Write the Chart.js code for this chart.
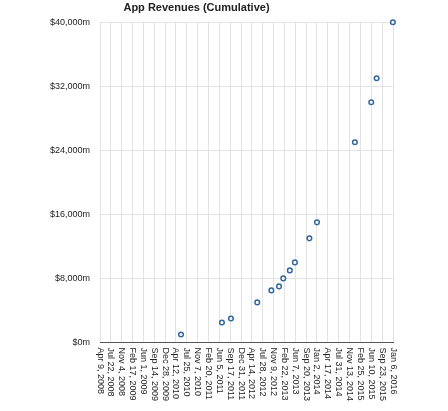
<!DOCTYPE html>
<html>
<head>
<script src="https://cdn.jsdelivr.net/npm/chart.js@4"></script>
<style>
  body { margin: 0; background: #fff; }
  #wrap { width: 448px; height: 411px; }
</style>
</head>
<body>
<div id="wrap"><canvas id="chart"></canvas></div>
<script>
const tickLabels = ["Apr 9, 2008", "Jul 22, 2008", "Nov 4, 2008", "Feb 17, 2009", "Jun 1, 2009",
    "Sep 14, 2009", "Dec 28, 2009", "Apr 12, 2010", "Jul 25, 2010", "Nov 7, 2010", "Feb 20, 2011",
    "Jun 5, 2011", "Sep 17, 2011", "Dec 31, 2011", "Apr 14, 2012", "Jul 28, 2012", "Nov 9, 2012",
    "Feb 22, 2013", "Jun 7, 2013", "Sep 20, 2013", "Jan 2, 2014", "Apr 17, 2014", "Jul 31, 2014",
    "Nov 13, 2014", "Feb 25, 2015", "Jun 10, 2015", "Sep 23, 2015", "Jan 6, 2016"];
// days since Apr 9, 2008
const pointDays = [782, 1177, 1264, 1518, 1654, 1728, 1769, 1832, 1881, 2021, 2094, 2460, 2618, 2670, 2827];
const revenues = [1000, 2500, 3000, 5000, 6500, 7000, 8000, 9000, 10000, 13000, 15000, 25000, 30000, 33000, 40000];

const start = Date.parse(tickLabels[0] + " UTC");
const tickDays = tickLabels.map(l => Math.round((Date.parse(l + " UTC") - start) / 86400000));
const FONT = "Liberation Sans, Arial, sans-serif";

const downLabels = {
    id: "downLabels",
    afterDraw(chart) {
        const ctx = chart.ctx;
        const x = chart.scales.x;
        const top = chart.chartArea.bottom + 5;
        ctx.save();
        ctx.font = "9px " + FONT;
        ctx.fillStyle = "#222";
        ctx.textAlign = "left";
        ctx.textBaseline = "middle";
        tickDays.forEach((d, i) => {
            ctx.save();
            ctx.translate(x.getPixelForValue(d), top);
            ctx.rotate(Math.PI / 2);
            ctx.fillText(tickLabels[i], 0, 0);
            ctx.restore();
        });
        ctx.restore();
    }
};

new Chart(document.getElementById("chart"), {
    type: "scatter",
    data: {
        datasets: [{
            data: pointDays.map((d, i) => ({ x: d, y: revenues[i] })),
            pointRadius: 2.3,
            pointBorderWidth: 1.5,
            borderColor: "#33689e",
            backgroundColor: "#fff",
            clip: false
        }]
    },
    options: {
        responsive: true,
        maintainAspectRatio: false,
        animation: false,
        layout: { padding: { top: 0, right: 55, bottom: 5, left: 0 } },
        plugins: {
            legend: { display: false },
            tooltip: { enabled: false },
            title: {
                display: true,
                text: "App Revenues (Cumulative)",
                color: "#222",
                font: { family: FONT, size: 11, weight: "bold" },
                padding: { top: 1, bottom: 8 }
            }
        },
        scales: {
            x: {
                type: "linear",
                min: 0,
                max: tickDays[tickDays.length - 1],
                afterBuildTicks: axis => { axis.ticks = tickDays.map(v => ({ value: v })); },
                grid: { color: "#e3e3e3", drawTicks: false },
                border: { color: "#555" },
                ticks: {
                    color: "rgba(0,0,0,0)",
                    font: { family: FONT, size: 9 },
                    minRotation: 90, maxRotation: 90,
                    autoSkip: false,
                    padding: 5,
                    callback: (v, i) => tickLabels[i]
                }
            },
            y: {
                min: 0, max: 40000,
                afterFit: axis => { axis.width = 100; },
                grid: { color: "#e3e3e3", drawTicks: false },
                border: { display: false },
                ticks: {
                    stepSize: 8000,
                    color: "#222",
                    padding: 10,
                    font: { family: FONT, size: 9 },
                    callback: v => "$" + v.toLocaleString("en-US") + "m"
                }
            }
        }
    },
    plugins: [downLabels]
});
</script>
</body>
</html>
